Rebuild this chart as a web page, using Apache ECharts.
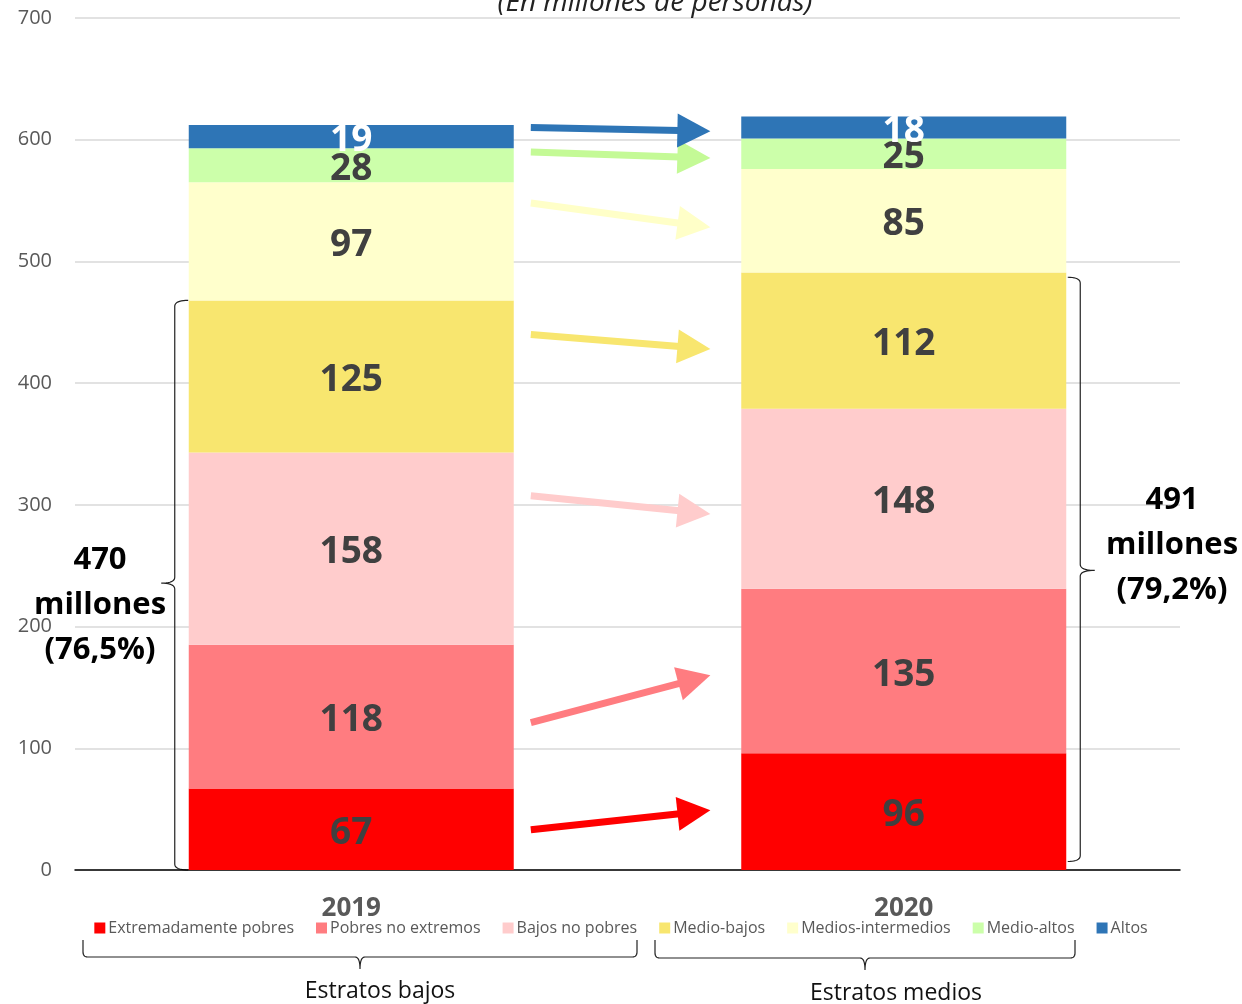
<!DOCTYPE html>
<html><head><meta charset="utf-8">
<script src="https://cdn.jsdelivr.net/npm/echarts@6/dist/echarts.min.js"></script>
<style>html,body{margin:0;padding:0;background:#fff}#c{width:1242px;height:1004px}</style>
</head><body><div id="c"></div>
<script>
const categories = ['2019', '2020'];
const seriesNames = ['Extremadamente pobres','Pobres no extremos','Bajos no pobres','Medio-bajos','Medios-intermedios','Medio-altos','Altos'];
const extremadamentePobres = [67, 96];
const pobresNoExtremos = [118, 135];
const bajosNoPobres = [158, 148];
const medioBajos = [125, 112];
const mediosIntermedios = [97, 85];
const medioAltos = [28, 25];
const altos = [19, 18];
const yTicks = [0, 100, 200, 300, 400, 500, 600, 700];
// annotation arrows (values at start / end)
const arrowStartVals = [33, 121, 307.5, 440, 548, 590, 610];
const arrowEndVals = [49, 160, 292.5, 428, 528, 585, 607];
// braces (value ranges)
const leftBrace = [0, 468];
const rightBrace = [7, 487];
const leftNote = ['470', 'millones', '(76,5%)'];
const rightNote = ['491', 'millones', '(79,2%)'];
const groupLabels = ['Estratos bajos', 'Estratos medios'];
const titleText = '(En millones de personas)';

const colors = ['#FF0000','#FF7C80','#FFCCCC','#F8E66F','#FFFFCC','#CCFFAA','#2E75B6'];
const arrowColors = ['#FF0000','#FF7C80','#FFCCCC','#F8E66F','#FFFFC8','#C4FA96','#2E75B6'];
const seriesData = [extremadamentePobres, pobresNoExtremos, bajosNoPobres, medioBajos, mediosIntermedios, medioAltos, altos];
const FONT = '"Open Sans", "Noto Sans", sans-serif';

const chart = echarts.init(document.getElementById('c'), null, {renderer: 'canvas'});
const option = {
  animation: false,
  textStyle: {fontFamily: FONT},
  grid: {left: 75, right: 62, top: 18, bottom: 134, containLabel: false},
  legend: {
    bottom: 63, left: 'center', itemWidth: 11, itemHeight: 11, itemGap: 22, icon: 'rect',
    textStyle: {fontSize: 16, color: '#595959', fontFamily: FONT, padding: [0, 0, 0, -2]},
    data: seriesNames
  },
  xAxis: {
    type: 'category', data: categories,
    axisLine: {lineStyle: {color: '#000', width: 1.5}},
    axisTick: {show: false},
    axisLabel: {fontSize: 26, fontWeight: 'bold', color: '#595959', margin: 26, fontFamily: FONT}
  },
  yAxis: {
    type: 'value', min: 0, max: 700, interval: 100,
    axisLine: {show: false}, axisTick: {show: false},
    axisLabel: {fontSize: 20, color: '#595959', margin: 23, fontFamily: FONT,
      formatter: v => yTicks.includes(v) ? String(v) : ''},
    splitLine: {lineStyle: {color: '#D9D9D9', width: 1.5}}
  },
  series: seriesNames.map((name, i) => ({
    name, type: 'bar', stack: 'total', barWidth: 325,
    itemStyle: {color: colors[i]},
    label: {
      show: true, position: 'inside', fontSize: 37, fontWeight: 'bold',
      color: i === 6 ? '#FFFFFF' : '#404040', fontFamily: FONT,
      offset: [0, 4]
    },
    data: seriesData[i]
  }))
};
chart.setOption(option);

function px(cat, v) { return chart.convertToPixel({gridIndex: 0}, [cat, v]); }
const c0 = px(0, 0)[0], c1 = px(1, 0)[0];
const graphics = [];

graphics.push({type: 'text', x: 655, y: 3, style: {
  text: titleText, align: 'center', verticalAlign: 'middle',
  font: 'italic 28px ' + FONT, fill: '#222'}});

// arrows
arrowStartVals.forEach((sv, i) => {
  const x0 = c0 + 0.325 * (c1 - c0), x1 = c0 + 0.650 * (c1 - c0);
  const y0 = px(0, sv)[1], y1 = px(0, arrowEndVals[i])[1];
  const dx = x1 - x0, dy = y1 - y0, L = Math.hypot(dx, dy);
  const ux = dx / L, uy = dy / L, nx = -uy, ny = ux;
  const hl = 33, hw = 17;
  const bx = x1 - ux * hl, by = y1 - uy * hl;
  graphics.push({type: 'line', shape: {x1: x0, y1: y0, x2: bx + ux * 2, y2: by + uy * 2},
    style: {stroke: arrowColors[i], lineWidth: 7}});
  graphics.push({type: 'polygon', shape: {points: [[x1, y1], [bx + nx * hw, by + ny * hw], [bx - nx * hw, by - ny * hw]]},
    style: {fill: arrowColors[i]}});
});

// helper: quadratic curve sampling
function quad(pts, p0, c, p1) {
  for (let t = 0.1; t <= 1.0001; t += 0.1) {
    const a = (1 - t) * (1 - t), b = 2 * (1 - t) * t, d = t * t;
    pts.push([a * p0[0] + b * c[0] + d * p1[0], a * p0[1] + b * c[1] + d * p1[1]]);
  }
}
function vBrace(xEdge, xLine, xPoint, yT, yB, yM) {
  const r = 6, pts = [[xEdge, yT]];
  quad(pts, [xEdge, yT], [xLine, yT], [xLine, yT + r]);
  pts.push([xLine, yM - r]);
  quad(pts, [xLine, yM - r], [xLine, yM], [xPoint, yM]);
  quad(pts, [xPoint, yM], [xLine, yM], [xLine, yM + r]);
  pts.push([xLine, yB - r]);
  quad(pts, [xLine, yB - r], [xLine, yB], [xEdge, yB]);
  return {type: 'polyline', shape: {points: pts}, style: {stroke: '#222', lineWidth: 1.2, fill: null}};
}
function hBrace(xL, xR, xM, yT, yH, yP) {
  const r = 5, pts = [[xL, yT]];
  pts.push([xL, yH - r]);
  quad(pts, [xL, yH - r], [xL, yH], [xL + r, yH]);
  pts.push([xM - r, yH]);
  quad(pts, [xM - r, yH], [xM, yH], [xM, yP]);
  quad(pts, [xM, yP], [xM, yH], [xM + r, yH]);
  pts.push([xR - r, yH]);
  quad(pts, [xR - r, yH], [xR, yH], [xR, yH - r]);
  pts.push([xR, yT]);
  return {type: 'polyline', shape: {points: pts}, style: {stroke: '#222', lineWidth: 1.2, fill: null}};
}
{
  const yT = px(0, leftBrace[1])[1], yB = px(0, leftBrace[0])[1];
  graphics.push(vBrace(c0 - 163, c0 - 176.5, c0 - 190, yT, yB, (yT + yB) / 2 - 2));
  const rT = px(1, rightBrace[1])[1], rB = px(1, rightBrace[0])[1];
  graphics.push(vBrace(c1 + 164, c1 + 176.5, c1 + 191, rT, rB, (rT + rB) / 2 + 1));
  graphics.push({type: 'text', x: 100, y: 605, style: {text: leftNote.join('\n'), align: 'center', verticalAlign: 'middle',
    font: 'bold 31px ' + FONT, lineHeight: 45, fill: '#000'}});
  graphics.push({type: 'text', x: 1172, y: 545, style: {text: rightNote.join('\n'), align: 'center', verticalAlign: 'middle',
    font: 'bold 31px ' + FONT, lineHeight: 45, fill: '#000'}});
}
graphics.push(hBrace(83, 637, 360, 940, 957, 969));
graphics.push(hBrace(655, 1075, 865, 940, 958, 970));
graphics.push({type: 'text', x: 380, y: 991, style: {text: groupLabels[0], align: 'center', verticalAlign: 'middle', font: '23px ' + FONT, fill: '#111'}});
graphics.push({type: 'text', x: 896, y: 993, style: {text: groupLabels[1], align: 'center', verticalAlign: 'middle', font: '23px ' + FONT, fill: '#111'}});

chart.setOption({graphic: graphics});
</script>
</body></html>
